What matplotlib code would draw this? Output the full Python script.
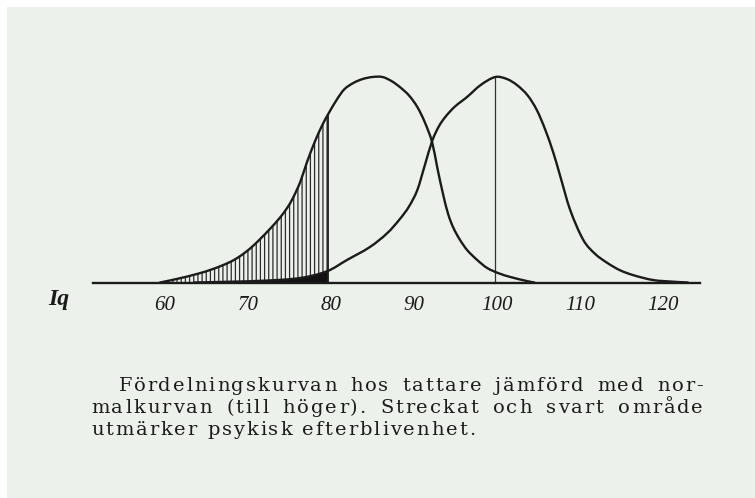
import matplotlib
matplotlib.use("Agg")
import matplotlib.pyplot as plt
import numpy as np
from matplotlib.patches import Rectangle, PathPatch
from matplotlib.path import Path

# ---------------- data ----------------
# distribution curve for "tattare" (left curve); x = IQ, y = height relative to peak
tattare_iq = [59.4, 61.5, 63.9, 65.8, 67.8, 69.0, 70.3, 71.5, 72.7, 73.9, 74.7, 75.4,
              76.3, 77.1, 78.1, 79.0, 79.6, 80.7, 81.6, 82.7, 83.8, 85.0, 86.2, 87.3,
              88.3, 89.4, 90.4, 91.3, 92.2, 92.8, 93.5, 94.1, 94.7, 95.5, 96.4, 97.6,
              98.8, 100.2, 101.6, 103.6, 104.5]
tattare_h = [0.0, 0.018, 0.042, 0.066, 0.099, 0.127, 0.167, 0.213, 0.263, 0.318, 0.362, 0.41,
             0.49, 0.585, 0.69, 0.77, 0.815, 0.89, 0.94, 0.971, 0.99, 1.0, 1.0, 0.98,
             0.951, 0.91, 0.854, 0.78, 0.68, 0.56, 0.43, 0.335, 0.27, 0.21, 0.158, 0.11,
             0.071, 0.045, 0.027, 0.007, 0.0]

# normal curve (right curve)
normal_iq = [63.5, 68.0, 72.0, 76.3, 79.6, 81.9, 84.7, 86.8, 88.3, 89.4, 90.4, 91.3,
             92.2, 93.0, 93.8, 94.9, 96.4, 98.0, 99.8, 101.2, 102.4, 103.7, 104.8, 105.8,
             106.8, 107.6, 108.8, 110.4, 111.8, 113.3, 114.8, 116.4, 118.8, 121.2, 123.0]
normal_h = [0.0, 0.004, 0.009, 0.022, 0.056, 0.109, 0.173, 0.241, 0.309, 0.37, 0.45, 0.57,
            0.69, 0.76, 0.807, 0.855, 0.903, 0.96, 1.0, 0.99, 0.961, 0.91, 0.839, 0.745,
            0.63, 0.52, 0.355, 0.207, 0.14, 0.095, 0.06, 0.036, 0.012, 0.004, 0.0]

tick_values = [60, 70, 80, 90, 100, 110, 120]
tick_labels = ["60", "70", "80", "90", "100", "110", "120"]
axis_label = "Iq"
cutoff_iq = 79.6          # end of hatched / black area
normal_mean_iq = 99.8     # vertical line under the normal curve's peak
axis_range = (51.3, 124.5)

caption_lines = [
    "Fördelningskurvan hos tattare jämförd med nor-",
    "malkurvan (till höger). Streckat och svart område",
    "utmärker psykisk efterblivenhet.",
]

# ---------------- layout ----------------
W, H, DPI = 755, 498, 100
PAPER = "#edf1eb"
INK = "#1b1b1b"
CAPTION_FONT = "DejaVu Serif"
CAPTION_SIZE = 14.0

fig = plt.figure(figsize=(W / DPI, H / DPI), dpi=DPI, facecolor="white")
fig.patches.append(Rectangle((7 / W, 0), 1 - 7 / W, 1 - 7 / H, transform=fig.transFigure,
                             facecolor=PAPER, edgecolor="none", zorder=-10))

ax = fig.add_axes([0, 0, 1, 1])
ax.set_facecolor("none")
px_per_iq = 8.3
x_left = 60 - 165 / px_per_iq
ax.set_xlim(x_left, x_left + W / px_per_iq)
base_py, peak_px = 282.5, 205.5
ax.set_ylim((base_py - H) / peak_px, base_py / peak_px)


def curve_path(x, y, upto=None, close=False):
    """Smooth (cubic Hermite -> Bezier) path through the given points."""
    x = np.asarray(x, float)
    y = np.asarray(y, float)
    n = len(x)
    m = np.empty(n)
    m[0] = (y[1] - y[0]) / (x[1] - x[0])
    m[-1] = (y[-1] - y[-2]) / (x[-1] - x[-2])
    m[1:-1] = (y[2:] - y[:-2]) / (x[2:] - x[:-2])
    last = n - 1 if upto is None else upto
    verts = [(x[0], y[0])]
    codes = [Path.MOVETO]
    for i in range(last):
        dx = x[i + 1] - x[i]
        verts += [(x[i] + dx / 3, y[i] + m[i] * dx / 3),
                  (x[i + 1] - dx / 3, y[i + 1] - m[i + 1] * dx / 3),
                  (x[i + 1], y[i + 1])]
        codes += [Path.CURVE4] * 3
    if close:
        verts += [(x[last], 0), (x[0], 0), (x[0], 0)]
        codes += [Path.LINETO, Path.LINETO, Path.CLOSEPOLY]
    return Path(verts, codes)


k_t = tattare_iq.index(cutoff_iq)
k_n = normal_iq.index(cutoff_iq)

# hatched area under the left curve
plt.rcParams["hatch.linewidth"] = 0.9
ax.add_patch(PathPatch(curve_path(tattare_iq, tattare_h, upto=k_t, close=True),
                       facecolor="none", edgecolor="#2a2a2a", hatch="||||", linewidth=0,
                       zorder=2))
# black area under the normal curve
ax.add_patch(PathPatch(curve_path(normal_iq, normal_h, upto=k_n, close=True),
                       facecolor="#111111", edgecolor="none", linewidth=0, zorder=3))

# cutoff line
ax.plot([cutoff_iq, cutoff_iq], [0, tattare_h[k_t]], color=INK, lw=1.3, zorder=4)
# line at the normal mean
ax.plot([normal_mean_iq, normal_mean_iq], [0, max(normal_h)], color="#333333", lw=0.9,
        zorder=4)

# the curves
for xs, ys in [(tattare_iq, tattare_h), (normal_iq, normal_h)]:
    ax.add_patch(PathPatch(curve_path(xs, ys), facecolor="none", edgecolor=INK, lw=1.7,
                           capstyle="round", joinstyle="round", zorder=5))

# axis line and tick labels
for s in ["top", "right", "left"]:
    ax.spines[s].set_visible(False)
ax.spines["bottom"].set_position(("data", 0))
ax.spines["bottom"].set_bounds(*axis_range)
ax.spines["bottom"].set_linewidth(1.7)
ax.spines["bottom"].set_color(INK)
ax.spines["bottom"].set_zorder(6)
ax.set_yticks([])
ax.set_xticks(tick_values, tick_labels)
for lab in ax.get_xticklabels():
    lab.set_fontfamily("Liberation Serif")
    lab.set_fontstyle("italic")
    lab.set_fontsize(15)
    lab.set_color(INK)
ax.tick_params(axis="x", length=0, pad=10)

fig.text(48 / W, 1 - 299 / H, axis_label, fontfamily="Liberation Serif", fontstyle="italic",
         fontweight="bold", fontsize=17, color=INK, ha="left", va="center")

# caption: letter-spaced and justified like the printed text
renderer = fig.canvas.get_renderer()
_cache = {}


def width_px(s):
    if s not in _cache:
        t = fig.text(0, 0, s, fontsize=CAPTION_SIZE, fontfamily=CAPTION_FONT)
        _cache[s] = t.get_window_extent(renderer).width
        t.remove()
    return _cache[s]


line3_target = 384.0
track = max((line3_target - width_px(caption_lines[2])) / (len(caption_lines[2]) - 1), 0.0)


def word_width(w):
    return width_px(w) + track * (len(w) - 1)


def draw_word(w, x, y_fig):
    for i, ch in enumerate(w):
        cx = x + (width_px(w[:i]) if i else 0) + track * i
        fig.text(cx / W, y_fig, ch, fontsize=CAPTION_SIZE, fontfamily=CAPTION_FONT,
                 color=INK, ha="left", va="baseline")


right_px = 703
starts = [119, 91, 91]
baselines = [391, 413, 435]
for i, line in enumerate(caption_lines):
    y = 1 - baselines[i] / H
    words = line.split(" ")
    ws = [word_width(w) for w in words]
    if i < 2:
        gap = (right_px - starts[i] - sum(ws)) / (len(words) - 1)
    else:
        gap = (line3_target - sum(ws)) / (len(words) - 1)
    x = starts[i]
    for w, wd in zip(words, ws):
        draw_word(w, x, y)
        x += wd + gap

fig.savefig("out.png", dpi=DPI, facecolor=fig.get_facecolor())
